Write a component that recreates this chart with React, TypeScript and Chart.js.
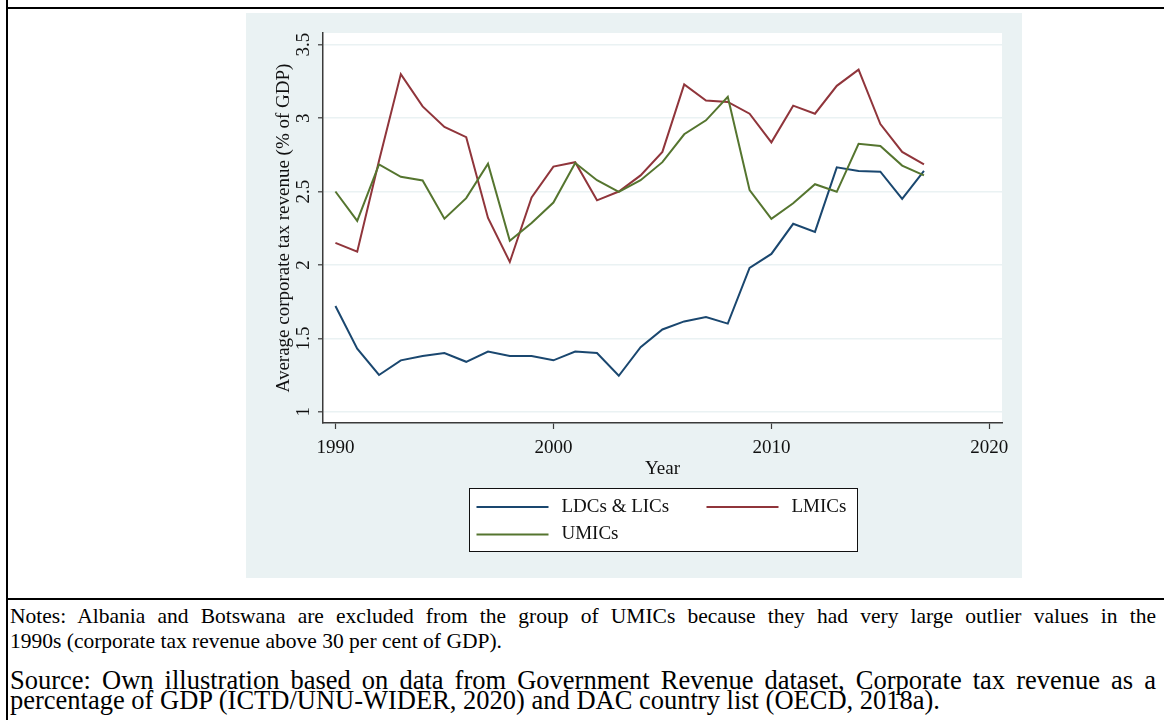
import React, { useEffect, useRef } from "react";
import { Chart, registerables } from "chart.js";

Chart.register(...registerables);

// ---------- data ----------
const years = [
  1990, 1991, 1992, 1993, 1994, 1995, 1996, 1997, 1998, 1999,
  2000, 2001, 2002, 2003, 2004, 2005, 2006, 2007, 2008, 2009,
  2010, 2011, 2012, 2013, 2014, 2015, 2016, 2017,
];
const ldcValues = [
  1.72, 1.43, 1.25, 1.35, 1.38, 1.40, 1.34, 1.41, 1.38, 1.38,
  1.35, 1.41, 1.40, 1.245, 1.44, 1.56, 1.615, 1.645, 1.60, 1.98,
  2.075, 2.28, 2.225, 2.665, 2.64, 2.635, 2.45, 2.64,
];
const lmicValues = [
  2.15, 2.09, 2.71, 3.30, 3.08, 2.94, 2.87, 2.32, 2.02, 2.46,
  2.67, 2.70, 2.44, 2.50, 2.61, 2.77, 3.23, 3.12, 3.11, 3.03,
  2.835, 3.085, 3.03, 3.22, 3.33, 2.96, 2.77, 2.685,
];
const umicValues = [
  2.50, 2.30, 2.685, 2.60, 2.575, 2.315, 2.455, 2.69, 2.165, 2.285,
  2.425, 2.695, 2.577, 2.498, 2.577, 2.70, 2.89, 2.985, 3.145, 2.51,
  2.314, 2.42, 2.55, 2.498, 2.825, 2.81, 2.677, 2.61,
];
const seriesLabels = ["LDCs & LICs", "LMICs", "UMICs"];
const seriesColors = ["#1a476f", "#90353b", "#55752f"];
const xTicks = [1990, 2000, 2010, 2020];
const xTickLabels = ["1990", "2000", "2010", "2020"];
const yTicks = [1, 1.5, 2, 2.5, 3, 3.5];
const yTickLabels = ["1", "1.5", "2", "2.5", "3", "3.5"];
const xTitle = "Year";
const yTitle = "Average corporate tax revenue (% of GDP)";
const notesLines = [
  "Notes: Albania and Botswana are excluded from the group of UMICs because they had very large outlier values in the",
  "1990s (corporate tax revenue above 30 per cent of GDP).",
];
const sourceLines = [
  "Source: Own illustration based on data from Government Revenue dataset, Corporate tax revenue as a",
  "percentage of GDP (ICTD/UNU-WIDER, 2020) and DAC country list (OECD, 2018a).",
];

// ---------- styling ----------
const FONT = "'Liberation Serif', 'Times New Roman', serif";
const AXIS = "#3a3a3a";
const TEXT = "#111";
const PANEL = "#eaf2f3";

const toPoints = (vals: number[]) => years.map((yr, i) => ({ x: yr, y: vals[i] }));

const plotBg = {
  id: "plotBg",
  beforeDraw(chart: any) {
    const { ctx, chartArea: a } = chart;
    ctx.save();
    ctx.fillStyle = "#ffffff";
    ctx.fillRect(a.left, a.top, a.right - a.left, a.bottom - a.top);
    ctx.restore();
  },
};

const boxLegend = {
  id: "boxLegend",
  afterDraw(chart: any) {
    const { ctx, chartArea: a } = chart;
    const w = 388;
    const h = 63;
    const left = Math.round((a.left + a.right) / 2 - w / 2) + 0.5;
    const top = Math.round(a.bottom + 65) + 0.5;
    ctx.save();
    ctx.fillStyle = "#ffffff";
    ctx.fillRect(left, top, w, h);
    ctx.strokeStyle = "#111";
    ctx.lineWidth = 1;
    ctx.strokeRect(left, top, w, h);
    ctx.font = `19px ${FONT}`;
    ctx.textBaseline = "middle";
    ctx.textAlign = "left";
    chart.data.datasets.forEach((ds: any, i: number) => {
      const col = i % 2;
      const row = Math.floor(i / 2);
      const x0 = left + 7 + col * 230;
      const y = top + 18.5 + row * 27.5;
      ctx.strokeStyle = ds.borderColor;
      ctx.lineWidth = 2;
      ctx.beginPath();
      ctx.moveTo(x0, y);
      ctx.lineTo(x0 + 72, y);
      ctx.stroke();
      ctx.fillStyle = TEXT;
      ctx.fillText(ds.label, x0 + 85, y);
    });
    ctx.restore();
  },
};

function CorpTaxChart() {
  const ref = useRef<HTMLCanvasElement | null>(null);
  useEffect(() => {
    if (!ref.current) return;
    const font = { family: FONT, size: 19 };
    const seriesValues = [ldcValues, lmicValues, umicValues];
    const chart = new Chart(ref.current, {
      type: "line",
      data: {
        datasets: seriesValues.map((vals, i) => ({
          label: seriesLabels[i],
          data: toPoints(vals),
          borderColor: seriesColors[i],
          backgroundColor: seriesColors[i],
          borderWidth: 2,
          pointRadius: 0,
          tension: 0,
          fill: false,
          order: 2 - i,
        })),
      },
      options: {
        animation: false,
        responsive: false,
        maintainAspectRatio: false,
        layout: { padding: { top: 20, right: 20, left: 0, bottom: 95 } },
        plugins: { legend: { display: false }, tooltip: { enabled: false } },
        scales: {
          x: {
            type: "linear",
            min: 1989.43,
            max: 2020.58,
            afterBuildTicks: (s: any) => {
              s.ticks = xTicks.map((v) => ({ value: v }));
            },
            afterFit: (s: any) => {
              s.height = 60;
            },
            grid: {
              drawOnChartArea: false,
              drawTicks: true,
              tickLength: 6,
              tickColor: AXIS,
              tickWidth: 1.2,
            },
            border: { display: true, color: AXIS, width: 1.5 },
            ticks: {
              font,
              color: TEXT,
              padding: 7.5,
              maxRotation: 0,
              autoSkip: false,
              callback: (v: any) => xTickLabels[xTicks.indexOf(Number(v))],
            },
            title: {
              display: true,
              text: xTitle,
              font,
              color: TEXT,
              padding: { top: 0, bottom: 2.5 },
            },
          },
          y: {
            type: "linear",
            min: 0.923,
            max: 3.58,
            afterBuildTicks: (s: any) => {
              s.ticks = yTicks.map((v) => ({ value: v }));
            },
            afterFit: (s: any) => {
              s.width = 77;
            },
            grid: {
              color: PANEL,
              lineWidth: 1.6,
              drawTicks: true,
              tickLength: 5,
              tickColor: AXIS,
              tickWidth: 1.2,
            },
            border: { display: true, color: AXIS, width: 1.5 },
            ticks: {
              font,
              color: TEXT,
              padding: 2,
              minRotation: 90,
              maxRotation: 90,
              crossAlign: "center",
              autoSkip: false,
              callback: (v: any) => yTickLabels[yTicks.indexOf(Number(v))],
            },
            title: {
              display: true,
              text: yTitle,
              font,
              color: TEXT,
              padding: { top: 27.1, bottom: 0 },
            },
          },
        },
      },
      plugins: [plotBg, boxLegend],
    } as any);
    return () => chart.destroy();
  }, []);
  return (
    <canvas
      ref={ref}
      width={776}
      height={565}
      style={{
        position: "absolute",
        left: 246,
        top: 13,
        width: 776,
        height: 565,
        background: PANEL,
      }}
    />
  );
}

const lineStyle = (top: number, size: number, justify: boolean): React.CSSProperties => ({
  position: "absolute",
  left: 10,
  top,
  width: 1146,
  fontFamily: FONT,
  fontSize: size,
  lineHeight: `${size}px`,
  color: "#000",
  whiteSpace: "nowrap",
  textAlign: justify ? "justify" : "left",
  textAlignLast: justify ? "justify" : "left",
});

export default function App() {
  return (
    <div
      style={{
        position: "absolute",
        left: 0,
        top: 0,
        width: 1164,
        height: 720,
        background: "#fff",
        overflow: "hidden",
      }}
    >
      {/* frame lines */}
      <div style={{ position: "absolute", left: 6, top: 0, width: 2, height: 720, background: "#000" }} />
      <div style={{ position: "absolute", left: 6, top: 7, width: 1158, height: 2, background: "#000" }} />
      <div style={{ position: "absolute", left: 6, top: 598, width: 1158, height: 2, background: "#000" }} />
      <CorpTaxChart />
      <div style={lineStyle(606, 21.5, true)}>{notesLines[0]}</div>
      <div style={lineStyle(631, 21.5, false)}>{notesLines[1]}</div>
      <div style={lineStyle(667, 26.5, true)}>{sourceLines[0]}</div>
      <div style={lineStyle(687, 26.5, false)}>{sourceLines[1]}</div>
    </div>
  );
}
